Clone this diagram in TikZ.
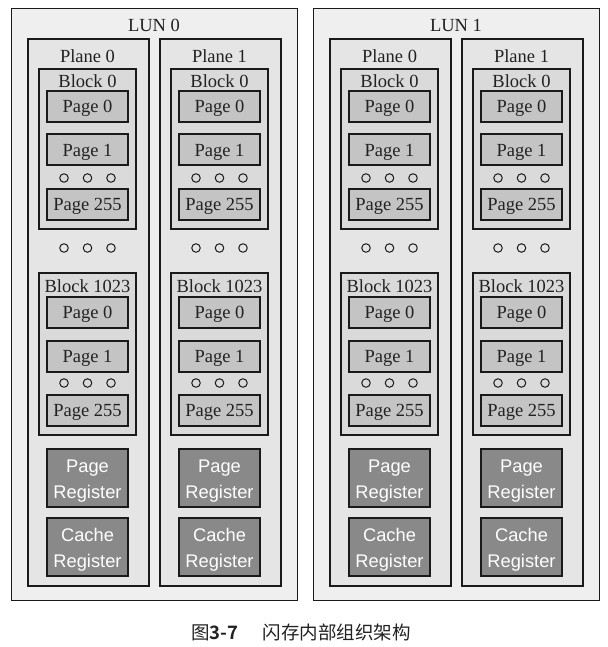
\documentclass[tikz,border=0pt]{standalone}
\usepackage{fontspec}
\setmainfont{Liberation Serif}
\setsansfont{Liberation Sans}
\newfontfamily\cjk[BoldFont={Noto Sans CJK SC Bold}]{Noto Sans CJK SC}
\definecolor{lunfill}{HTML}{EFEFEF}
\definecolor{planefill}{HTML}{E5E5E5}
\definecolor{blockfill}{HTML}{DADADA}
\definecolor{pagefill}{HTML}{C4C4C4}
\definecolor{regfill}{HTML}{898989}
\definecolor{edge}{HTML}{1A1A1A}
\definecolor{txt}{HTML}{222222}
\tikzset{
  lunbox/.style={draw=edge, line width=1.3pt, fill=lunfill, anchor=north west, inner sep=0pt},
  planebox/.style={draw=edge, line width=1.6pt, fill=planefill, anchor=north west, inner sep=0pt},
  blockbox/.style={draw=edge, line width=2pt, fill=blockfill, anchor=north west, inner sep=0pt},
  pagebox/.style={draw=edge, line width=2pt, fill=pagefill, minimum width=81pt, minimum height=31pt, inner sep=0pt, text=txt, text height=13pt, text depth=0.4pt, font=\fontsize{18.5}{20}\selectfont},
  regbox/.style={draw=edge, line width=2pt, fill=regfill, minimum width=81pt, minimum height=58pt, inner sep=0pt},
  regtxt/.style={inner sep=0pt, text=white, align=center, font=\sffamily\fontsize{18.3}{26}\selectfont},
  lbl/.style={text=txt, inner sep=0pt, font=\fontsize{18.5}{20}\selectfont},
  dot/.style={circle, draw=edge, line width=1pt, fill=blockfill, minimum size=8.5pt, inner sep=0pt},
}
\begin{document}
\begin{tikzpicture}[x=1pt,y=-1pt]
\useasboundingbox (0,0) rectangle (607,647);
\fill[white] (0,0) rectangle (607,647);
\foreach \l/\lx in {0/0,1/302}{
  \node[lunbox, minimum width=286pt, minimum height=592pt] (L\l) at (11+\lx,8) {};
  \node[lbl] (L\l lab) at (154+\lx,25.5) {LUN \l};
  \foreach \p/\px in {0/0,1/132}{
    \pgfmathsetmacro{\ox}{\lx+\px}
    \node[planebox, minimum width=121pt, minimum height=547pt] (L\l P\p) at (27+\ox,38) {};
    \node[lbl] (L\l P\p lab) at (87.5+\ox,56.5) {Plane \p};
    \foreach \b/\by/\bh in {0/0/160,1/204/162}{
      \node[blockbox, minimum width=97pt, minimum height=\bh pt] (L\l P\p B\b) at (38+\ox,68+\by) {};
    }
    \node[lbl] (L\l P\p B0lab) at (87.5+\ox,81) {Block 0};
    \node[lbl] (L\l P\p B1lab) at (87.5+\ox,286) {Block 1023};
    \node[pagebox] (L\l P\p B0a) at (87.5+\ox,106.5) {Page 0};
    \node[pagebox] (L\l P\p B0b) at (87.5+\ox,150) {Page 1};
    \node[pagebox] (L\l P\p B0c) at (87.5+\ox,204) {Page 255};
    \node[pagebox] (L\l P\p B1a) at (87.5+\ox,312.5) {Page 0};
    \node[pagebox] (L\l P\p B1b) at (87.5+\ox,356) {Page 1};
    \node[pagebox] (L\l P\p B1c) at (87.5+\ox,410) {Page 255};
    \foreach \dy/\dn in {178/a,383/b}{
      \foreach \dx/\k in {64/1,87.5/2,111/3}{
        \node[dot] (L\l P\p d\dn\k) at (\dx+\ox,\dy) {};
      }
    }
    \foreach \dx/\k in {64/1,87.5/2,111/3}{
      \node[dot, fill=planefill] (L\l P\p dm\k) at (\dx+\ox,248) {};
    }
    \node[regbox] (L\l P\p PR) at (87.5+\ox,478) {};
    \node[regtxt] (L\l P\p PRt) at ([yshift=-3pt]L\l P\p PR.center) {Page\\Register};
    \node[regbox] (L\l P\p CR) at (87.5+\ox,546.5) {};
    \node[regtxt] (L\l P\p CRt) at ([yshift=-3pt]L\l P\p CR.center) {Cache\\Register};
  }
}
\node[inner sep=0pt, text=txt, font=\cjk\fontsize{18.5}{20}\selectfont] (cap) at (301,632) {图\textbf{3-7}\hspace{1.3em}闪存内部组织架构};
\end{tikzpicture}
\end{document}
